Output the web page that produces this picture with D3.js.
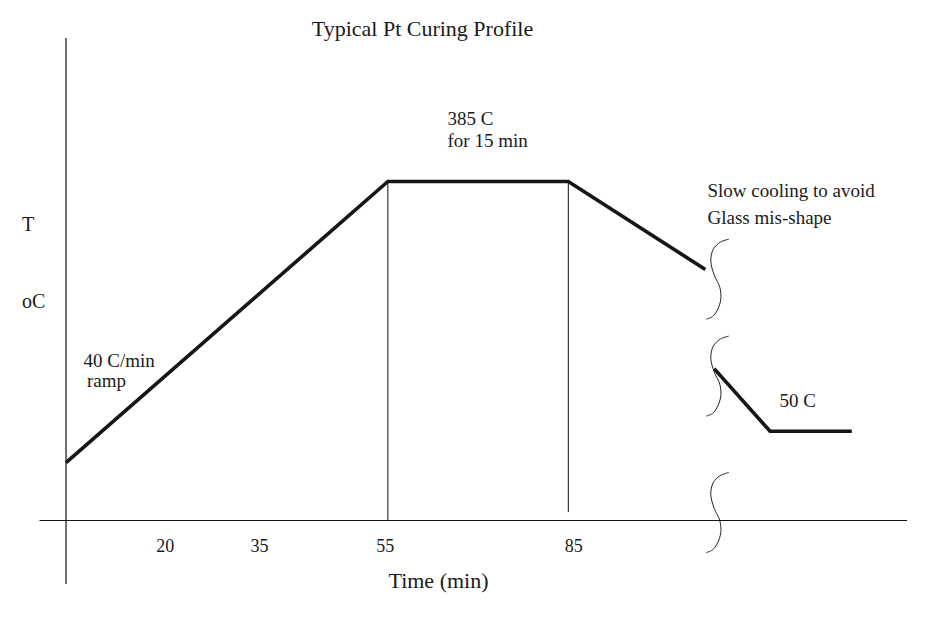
<!DOCTYPE html>
<html>
<head>
<meta charset="utf-8">
<script src="https://cdnjs.cloudflare.com/ajax/libs/d3/7.8.5/d3.min.js"></script>
<style>
  body { margin: 0; background: #fff; }
  text { font-family: "Liberation Serif", "Times New Roman", serif; fill: #1a1a1a; }
</style>
</head>
<body>
<div id="chart"></div>
<script>
// profile, in minutes and deg C (schematic)
var heatTime = [4.3, 55.5, 84.2, 106];
var heatTemp = [8, 385, 385, 267];
var coolTime = [107.4, 116.3, 129.3];
var coolTemp = [134, 50, 50];

var tickMinutes = [20, 35, 55, 85];
var guideMinutes = [55.5, 84.2];   // drop lines under the hold
var breakMinute = 107.9;
var breakTemps = [254, 124, -59];  // axis-break squiggles

var title = "Typical Pt Curing Profile";
var xTitle = "Time (min)";
var yTitle = ["T", "oC"];
var holdNote = ["385 C", "for 15 min"];
var rampNote = ["40 C/min", "ramp"];
var coolNote = ["Slow cooling to avoid", "Glass mis-shape"];
var endNote = ["50 C"];

var width = 936, height = 630;

var svg = d3.select("#chart").append("svg")
  .attr("width", width)
  .attr("height", height);

var x = d3.scaleLinear().domain([0, 138]).range([39, 906.5]);
var y = d3.scaleLinear().domain([-69, 385]).range([520, 181.5]);

var yAxisAt = heatTime[0];

/* x axis */
var xAxis = d3.axisBottom(x)
  .tickValues(tickMinutes)
  .tickSize(0)
  .tickSizeOuter(0)
  .tickPadding(19)
  .tickFormat(d3.format("d"));

var gx = svg.append("g")
  .attr("transform", "translate(0," + y(-69) + ")")
  .call(xAxis);
gx.select(".domain").attr("stroke", "#111").attr("stroke-width", 1.2);
gx.selectAll("text")
  .attr("font-size", 18)
  .attr("font-family", "Liberation Serif, Times New Roman, serif")
  .attr("fill", "#1a1a1a");

/* y axis, just a line */
svg.append("line")
  .attr("x1", x(yAxisAt)).attr("x2", x(yAxisAt))
  .attr("y1", 38).attr("y2", 584)
  .attr("stroke", "#111")
  .attr("stroke-width", 1.2);

/* drop lines */
svg.selectAll("line.guide")
  .data(guideMinutes)
  .enter()
  .append("line")
  .attr("class", "guide")
  .attr("x1", function(d){return x(d);})
  .attr("x2", function(d){return x(d);})
  .attr("y1", y(385))
  .attr("y2", function(d,i){return i == 0 ? y(-69) : y(-69) - 8;})
  .attr("stroke", "#111")
  .attr("stroke-width", 1);

/* profile */
var line = d3.line()
  .x(function(d){return x(d[0]);})
  .y(function(d){return y(d[1]);});

var segments = [d3.zip(heatTime, heatTemp), d3.zip(coolTime, coolTemp)];
svg.selectAll("path.profile")
  .data(segments)
  .enter()
  .append("path")
  .attr("class", "profile")
  .attr("d", line)
  .attr("fill", "none")
  .attr("stroke", "#161616")
  .attr("stroke-width", 3.6)
  .attr("stroke-linejoin", "miter");

/* axis break squiggles */
var squiggle = [[11.5,-40],[3,-37],[-4,-30],[-6.5,-18],[-3,-4],[2.5,8],[3.5,20],[0,31],[-5,37.5],[-11,40]];
var brace = d3.line().curve(d3.curveCatmullRom);
svg.selectAll("path.brk")
  .data(breakTemps)
  .enter()
  .append("path")
  .attr("class", "brk")
  .attr("transform", function(d){return "translate(" + x(breakMinute) + "," + y(d) + ")";})
  .attr("d", brace(squiggle))
  .attr("fill", "none")
  .attr("stroke", "#222")
  .attr("stroke-width", 1);

/* texts */
svg.append("text")
  .attr("x", 422.5).attr("y", 36)
  .attr("text-anchor", "middle")
  .attr("font-size", 22)
  .text(title);

svg.append("text")
  .attr("x", 438.5).attr("y", 588)
  .attr("text-anchor", "middle")
  .attr("font-size", 22)
  .text(xTitle);

svg.selectAll("text.ylab")
  .data(yTitle)
  .enter()
  .append("text")
  .attr("class", "ylab")
  .attr("x", 22)
  .attr("y", function(d,i){return i == 0 ? 231 : 308;})
  .attr("font-size", 20)
  .text(function(d){return d;});

function note(lines, px, py, step, indent) {
  svg.append("g").selectAll("text")
    .data(lines)
    .enter()
    .append("text")
    .attr("x", function(d,i){return px + (i ? indent : 0);})
    .attr("y", function(d,i){return py + i*step;})
    .attr("font-size", 19)
    .text(function(d){return d;});
}
note(holdNote, 447.5, 125, 22, 0);
note(rampNote, 83.5, 367, 20, 3.5);
note(coolNote, 707.5, 197, 27, 0);
note(endNote, 779.5, 407, 0, 0);
</script>
</body>
</html>
